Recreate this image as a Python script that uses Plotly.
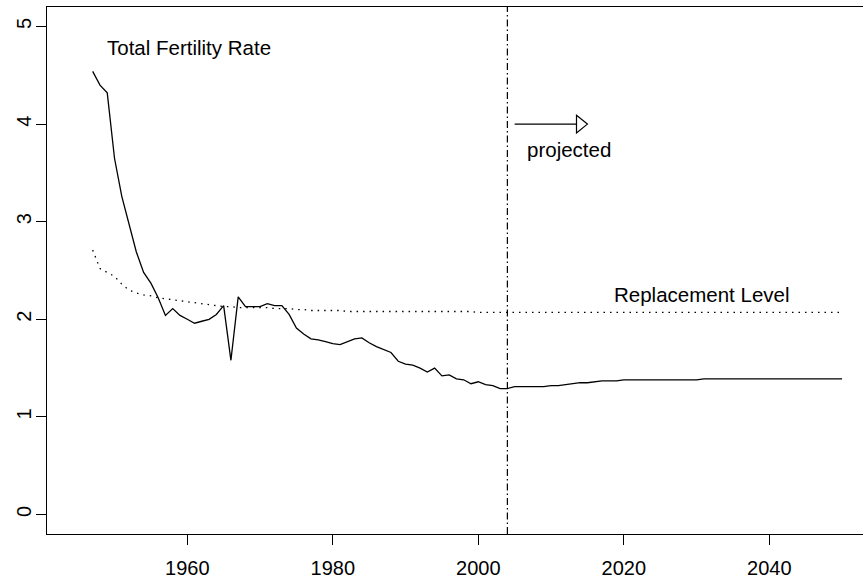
import plotly.graph_objects as go

# ---- data ----
years_obs = list(range(1947, 2005))
tfr_obs = [4.54, 4.40, 4.32, 3.65, 3.26, 2.98, 2.69, 2.48, 2.37, 2.22,
           2.04, 2.11, 2.04, 2.00, 1.96, 1.98, 2.00, 2.05, 2.14, 1.58,
           2.23, 2.13, 2.13, 2.13, 2.16, 2.14, 2.14, 2.05, 1.91, 1.85,
           1.80, 1.79, 1.77, 1.75, 1.74, 1.77, 1.80, 1.81, 1.76, 1.72,
           1.69, 1.66, 1.57, 1.54, 1.53, 1.50, 1.46, 1.50, 1.42, 1.43,
           1.39, 1.38, 1.34, 1.36, 1.33, 1.32, 1.29, 1.29]

years_proj = list(range(2005, 2051))
tfr_proj = [1.31, 1.31, 1.31, 1.31, 1.31, 1.32, 1.32, 1.33, 1.34, 1.35,
            1.35, 1.36, 1.37, 1.37, 1.37, 1.38, 1.38, 1.38, 1.38, 1.38,
            1.38, 1.38, 1.38, 1.38, 1.38, 1.38, 1.39, 1.39, 1.39, 1.39,
            1.39, 1.39, 1.39, 1.39, 1.39, 1.39, 1.39, 1.39, 1.39, 1.39,
            1.39, 1.39, 1.39, 1.39, 1.39, 1.39]

years_repl = list(range(1947, 2051))
repl = [2.71, 2.52, 2.48, 2.44, 2.36, 2.30, 2.27, 2.25, 2.24, 2.22,
        2.21, 2.20, 2.19, 2.18, 2.17, 2.16, 2.15, 2.14, 2.13, 2.13,
        2.12, 2.12, 2.12, 2.12, 2.12, 2.11, 2.11, 2.11, 2.10, 2.10,
        2.09, 2.09, 2.09, 2.09, 2.09, 2.08, 2.08, 2.08, 2.08, 2.08,
        2.08, 2.08, 2.08, 2.08, 2.08, 2.08, 2.08, 2.08, 2.08, 2.08,
        2.08, 2.08, 2.08] + [2.07] * 51

x_ticks = [1960, 1980, 2000, 2020, 2040]
y_ticks = [0, 1, 2, 3, 4, 5]

projection_start = 2004
arrow_x0, arrow_x1, arrow_y = 2005, 2015, 4.0
head_len, head_half = 1.5, 0.09

labels = [
    ("Total Fertility Rate", 1960.3, 4.78),
    ("projected", 2012.5, 3.74),
    ("Replacement Level", 2030.7, 2.25),
]

FONT = "Liberation Sans, Arial, sans-serif"

fig = go.Figure()
fig.add_trace(go.Scatter(x=years_repl, y=repl, mode="lines",
                         line=dict(color="black", width=1.3, dash="1.5px,5px"),
                         hoverinfo="skip"))
fig.add_trace(go.Scatter(x=years_obs + years_proj, y=tfr_obs + tfr_proj,
                         mode="lines", line=dict(color="black", width=1.3),
                         hoverinfo="skip"))

# projection boundary
fig.add_shape(type="line", xref="x", yref="paper",
              x0=projection_start, x1=projection_start, y0=0, y1=1,
              line=dict(color="black", width=1.2, dash="7px,3px,1.5px,3px"))

# arrow
fig.add_shape(type="line", xref="x", yref="y",
              x0=arrow_x0, x1=arrow_x1 - head_len, y0=arrow_y, y1=arrow_y,
              line=dict(color="black", width=1.2))
tri = (f"M {arrow_x1 - head_len},{arrow_y + head_half} "
       f"L {arrow_x1},{arrow_y} L {arrow_x1 - head_len},{arrow_y - head_half} Z")
fig.add_shape(type="path", xref="x", yref="y", path=tri,
              line=dict(color="black", width=1.2), fillcolor="white")

for txt, x, y in labels:
    fig.add_annotation(x=x, y=y, text=txt, showarrow=False,
                       xanchor="center", yanchor="middle",
                       font=dict(family=FONT, size=20.5, color="black"))

fig.update_layout(
    width=863, height=585,
    margin=dict(l=47, r=0, t=7, b=51),
    paper_bgcolor="white", plot_bgcolor="white",
    showlegend=False,
    font=dict(family=FONT, size=20, color="black"),
    xaxis=dict(range=[1940.72, 2052.88], tickvals=x_ticks,
               ticks="outside", ticklen=10, tickcolor="black", tickwidth=1,
               showline=True, linecolor="black", linewidth=1, mirror=True,
               showgrid=False, zeroline=False, ticklabelstandoff=6),
    yaxis=dict(range=[-0.2, 5.2], tickvals=y_ticks, tickangle=-90,
               ticks="outside", ticklen=10, tickcolor="black", tickwidth=1,
               showline=True, linecolor="black", linewidth=1, mirror=False,
               showgrid=False, zeroline=False, ticklabelstandoff=-3),
)

fig.write_html("out.html")
